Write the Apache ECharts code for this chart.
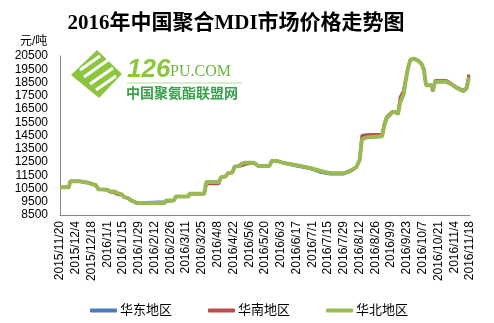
<!DOCTYPE html>
<html><head><meta charset="utf-8">
<script src="https://cdn.jsdelivr.net/npm/echarts@6/dist/echarts.min.js"></script>
<style>html,body{margin:0;padding:0;background:#fff}#c{width:494px;height:323px}</style>
</head><body><div id="c"></div>
<script>
// ---- data ----
const dates = [
 '2015-11-20','2015-11-28','2015-11-29','2015-12-07','2015-12-08','2015-12-14','2015-12-15','2015-12-22','2015-12-24','2016-01-01',
 '2016-01-03','2016-01-08','2016-01-10','2016-01-14','2016-01-16','2016-01-20','2016-01-22','2016-01-25','2016-01-27','2016-02-21',
 '2016-02-22','2016-02-29','2016-03-02','2016-03-13','2016-03-14','2016-03-27','2016-03-29','2016-04-09','2016-04-11','2016-04-15',
 '2016-04-17','2016-04-21','2016-04-23','2016-04-27','2016-04-29','2016-05-02','2016-05-10','2016-05-14','2016-05-24','2016-05-26',
 '2016-06-01','2016-06-07','2016-06-17','2016-06-29','2016-07-09','2016-07-17','2016-07-29','2016-08-04','2016-08-09','2016-08-12',
 '2016-08-14','2016-08-18','2016-09-01','2016-09-03','2016-09-05','2016-09-10','2016-09-13','2016-09-15','2016-09-17','2016-09-20',
 '2016-09-22','2016-09-24','2016-09-26','2016-09-29','2016-10-03','2016-10-06','2016-10-08','2016-10-10','2016-10-15','2016-10-16',
 '2016-10-18','2016-10-28','2016-11-01','2016-11-06','2016-11-12','2016-11-15','2016-11-17'
];
const northValues = [ // 华北地区
 10600,10600,11050,11050,10950,10950,10800,10750,10450,10400,
 10300,10250,10150,10050,9850,9750,9600,9500,9400,9400,
 9600,9600,9900,9900,10100,10100,11000,11000,11350,11400,
 11650,11700,12150,12200,12350,12450,12450,12200,12200,12600,
 12550,12400,12250,12050,11800,11650,11650,11850,12100,12650,
 14200,14350,14450,15300,15800,16250,16300,16100,17000,17600,
 18700,19600,20200,20300,20150,19900,19500,18300,18300,17850,
 18550,18550,18400,18100,17850,18050,18900
];
const southValues = [ // 华南地区
 10600,10600,11050,11050,10950,10950,10800,10750,10450,10400,
 10250,10150,10050,10000,9850,9750,9600,9500,9400,9400,
 9600,9600,9900,9900,10100,10100,10850,10850,11350,11400,
 11650,11700,12150,12200,12200,12300,12450,12200,12200,12600,
 12550,12400,12250,12050,11800,11650,11650,11850,12100,12650,
 14500,14550,14600,15400,15900,16300,16300,16100,17400,17900,
 18800,19600,20200,20300,20150,19900,19500,18300,18300,17850,
 18650,18650,18450,18150,17900,18100,19100
];
const eastValues = [ // 华东地区
 10600,10600,11050,11050,10950,10950,10800,10750,10450,10400,
 10300,10250,10150,10050,9850,9750,9600,9500,9400,9500,
 9600,9600,9900,9900,10100,10100,11000,11000,11350,11400,
 11650,11700,12150,12200,12350,12450,12450,12200,12200,12600,
 12550,12400,12200,12000,11700,11600,11600,11800,12100,12650,
 14200,14350,14450,15300,15800,16250,16300,16100,17000,17600,
 18700,19600,20200,20300,20150,19900,19500,18300,18300,17850,
 18550,18550,18400,18100,17850,18050,18900
];
const seriesNames = ['华东地区','华南地区','华北地区'];
const seriesColors = ['#4a7ebb','#be4b48','#98b954'];
const titleText = '2016年中国聚合MDI市场价格走势图';
const unitText = '元/吨';

// ---- helpers ----
const START = Date.UTC(2015,10,20);
function dayIndex(s){const p=s.split('-').map(Number);return Math.round((Date.UTC(p[0],p[1]-1,p[2])-START)/86400000);}
function dayLabel(d){const t=new Date(START+d*86400000);return t.getUTCFullYear()+'/'+(t.getUTCMonth()+1)+'/'+t.getUTCDate();}
function pairs(vals){return dates.map((d,i)=>[dayIndex(d),vals[i]]);}

const chart = echarts.init(document.getElementById('c'), null, {renderer:'canvas'});
const numFont = "'Liberation Sans', Arial, sans-serif";
const cjkFont = "'Liberation Sans', 'Noto Sans CJK SC', sans-serif";
chart.setOption({
  animation:false,
  backgroundColor:'#fff',
  grid:{left:60,right:24,top:56,bottom:108,containLabel:false},
  xAxis:{type:'value',min:0,max:364,interval:14,
    axisLine:{show:true,lineStyle:{color:'#868686',width:1}},
    axisTick:{show:false},splitLine:{show:false},
    axisLabel:{rotate:90,margin:6,fontSize:12,color:'#000',fontFamily:numFont,formatter:v=>dayLabel(v)}},
  yAxis:{type:'value',min:8500,max:20500,interval:1000,
    axisLine:{show:true,lineStyle:{color:'#868686',width:1}},
    axisTick:{show:false},splitLine:{show:false},
    axisLabel:{margin:12,fontSize:12,color:'#000',fontFamily:numFont,formatter:v=>String(v)}},
  legend:{left:85,top:299,itemWidth:27,itemHeight:4,itemGap:36,icon:'roundRect',
    textStyle:{fontSize:13,color:'#000',fontFamily:cjkFont,padding:[0,0,0,-2]},
    data:seriesNames},
  series:[eastValues,southValues,northValues].map((vals,i)=>({
    name:seriesNames[i],type:'line',data:pairs(vals),showSymbol:false,symbol:'none',
    color:seriesColors[i],
    lineStyle:{color:seriesColors[i],width:i===2?4:3},z:2+i
  })),
  graphic:[
    {type:'text',x:236,y:13,style:{text:titleText,fontSize:21,fontWeight:'bold',fill:'#000',textAlign:'center',
      fontFamily:"'Liberation Serif','Noto Sans CJK SC',serif"}},
    {type:'text',x:20,y:36,style:{text:unitText,fontSize:12,fill:'#000',fontFamily:cjkFont}},
    {type:'polygon',shape:{points:[[97,50],[122,74],[99,98],[71,75]]},style:{fill:'#8cc63f'},z:-1},
    {type:'polyline',shape:{points:[[80,70],[100,56]]},style:{stroke:'#fff',lineWidth:3},z:-1},
    {type:'polyline',shape:{points:[[84,77],[108,60]]},style:{stroke:'#fff',lineWidth:3},z:-1},
    {type:'polyline',shape:{points:[[90,84],[113,68]]},style:{stroke:'#fff',lineWidth:3},z:-1},
    {type:'polyline',shape:{points:[[96,90],[116,76]]},style:{stroke:'#fff',lineWidth:3},z:-1},
    {type:'text',x:127,y:57,style:{text:'126',fontSize:26,fontWeight:'bold',fontStyle:'italic',fill:'#8cc63f',fontFamily:numFont},z:-1},
    {type:'text',x:170,y:64,style:{text:'PU.COM',fontSize:16,fill:'#6cb33e',fontFamily:"'Liberation Serif',serif"},z:-1},
    {type:'line',shape:{x1:127,y1:83,x2:242,y2:83},style:{stroke:'#b5dc8a',lineWidth:1},z:-1},
    {type:'text',x:126,y:86,style:{text:'中国聚氨酯联盟网',fontSize:14,fontWeight:'bold',fill:'#3aa04a',fontFamily:"'Noto Sans CJK SC',sans-serif"},z:-1}
  ]
});
</script></body></html>
